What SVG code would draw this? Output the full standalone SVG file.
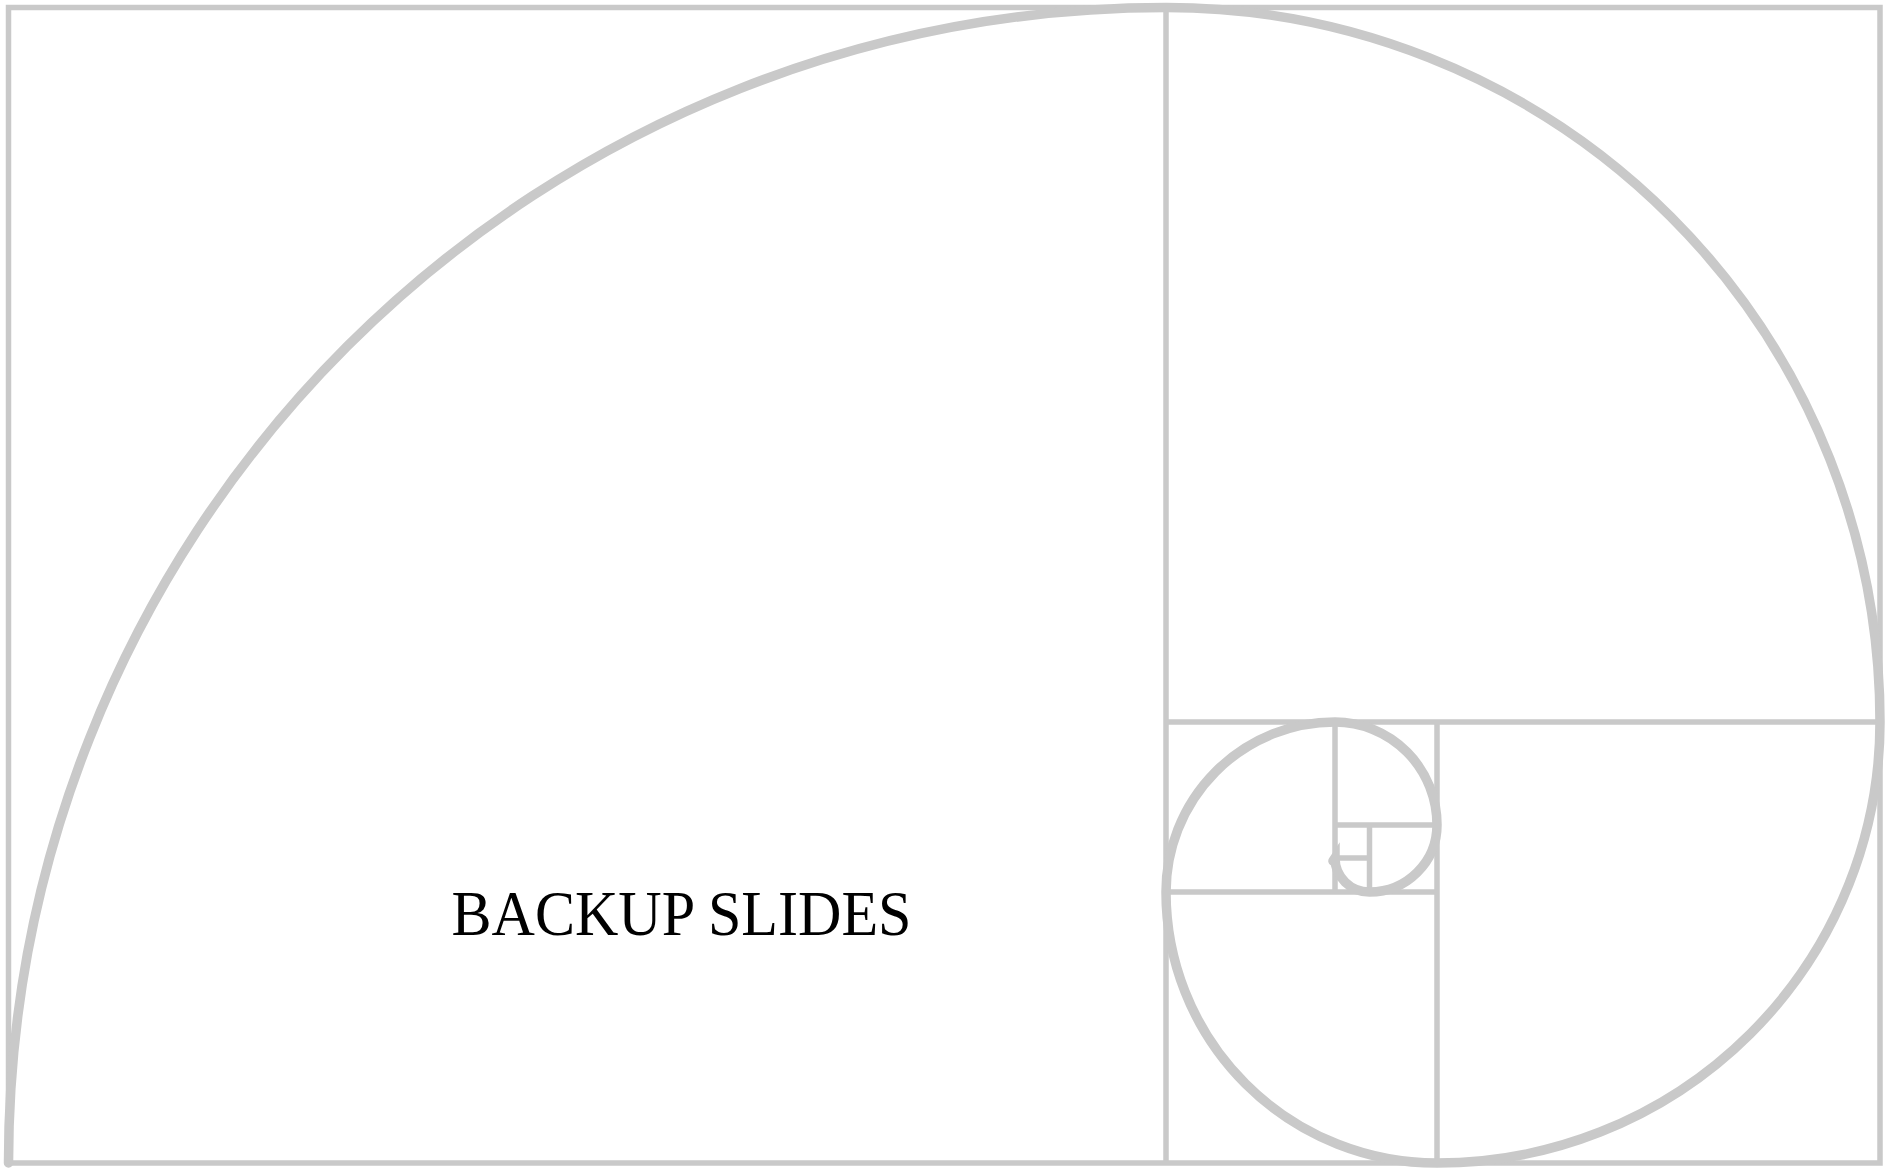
<svg xmlns="http://www.w3.org/2000/svg" width="1902" height="1172" viewBox="0 0 1902 1172">
  <style>
    .frame { fill: none; stroke: #c9c9c9; stroke-width: 5.5; }
    .div { fill: none; stroke: #c9c9c9; stroke-width: 5.5; stroke-linecap: butt; }
    .spiral { fill: none; stroke: #c9c9c9; stroke-width: 9.5; stroke-linecap: round; }
    .title { font-family: "Liberation Serif", "DejaVu Serif", serif; font-size: 64px; fill: #000000; }
  </style>
  <rect width="1902" height="1172" fill="#ffffff"/>
  <g id="frame">
    <rect class="frame" x="8.5" y="7.5" width="1871.5" height="1155.5"/>
  </g>
  <g id="divisions">
    <line class="div" x1="1166" y1="7.5" x2="1166" y2="1163"/>
    <line class="div" x1="1166" y1="722" x2="1880" y2="722"/>
    <line class="div" x1="1437" y1="722" x2="1437" y2="1163"/>
    <line class="div" x1="1166" y1="892" x2="1437" y2="892"/>
    <line class="div" x1="1335" y1="722" x2="1335" y2="892"/>
    <line class="div" x1="1335" y1="825" x2="1437" y2="825"/>
    <line class="div" x1="1369.5" y1="825" x2="1369.5" y2="892"/>
    <line class="div" x1="1335" y1="858" x2="1369.5" y2="858"/>
  </g>
  <g id="spiral">
    <path class="spiral" d="M 8.5 1163 A 1157.5 1155.5 0 0 1 1166 7.5 A 714 714.5 0 0 1 1880 722 A 443 441 0 0 1 1437 1163 A 271 271 0 0 1 1166 892 A 169 170 0 0 1 1335 722 A 102 103 0 0 1 1437 825 A 67.5 67 0 0 1 1369.5 892 A 34.5 34 0 0 1 1335 858 l -2 3"/>
  </g>
  <g id="title">
    <text class="title" x="451.5" y="935" textLength="460" lengthAdjust="spacingAndGlyphs">BACKUP SLIDES</text>
  </g>
</svg>
